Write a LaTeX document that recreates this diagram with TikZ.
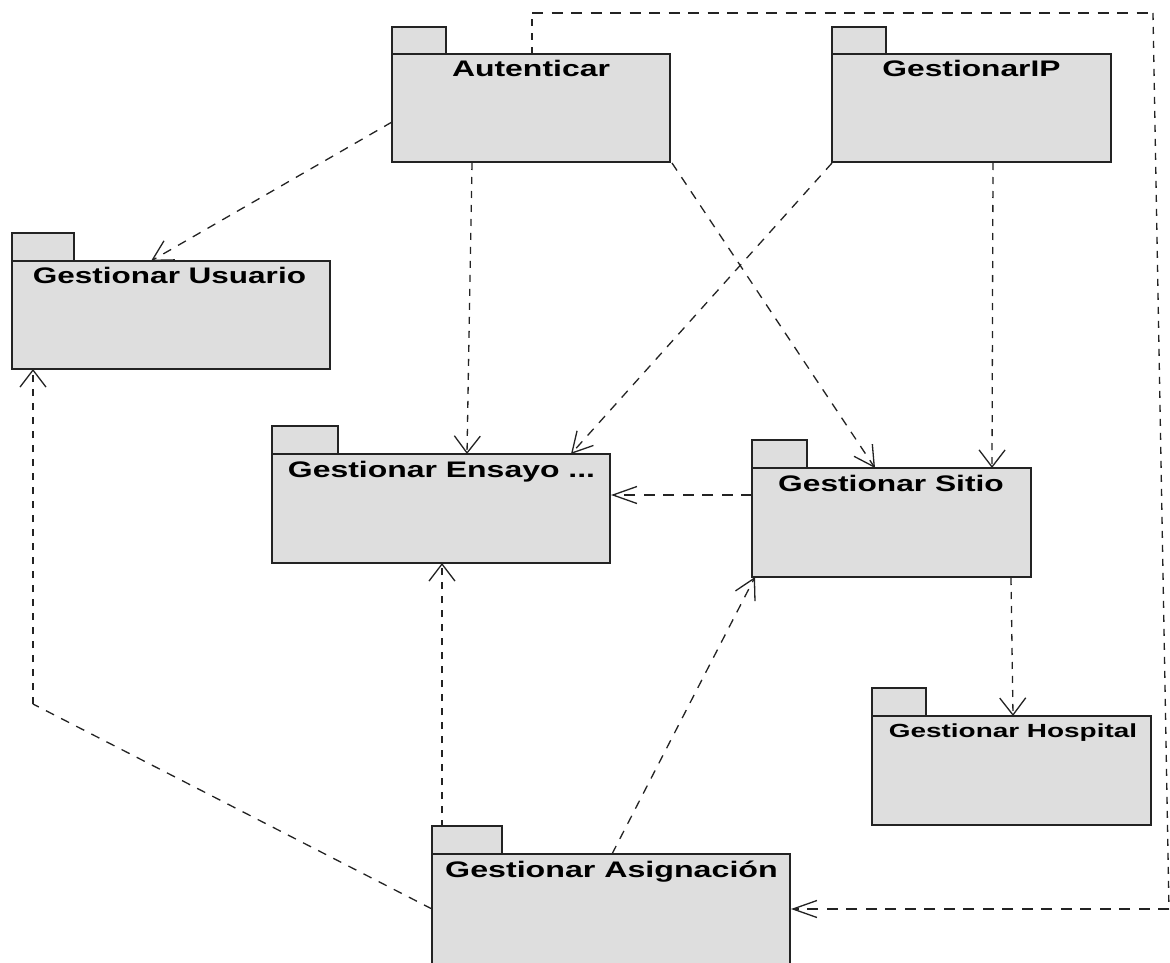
\documentclass[tikz,border=0pt]{standalone}
\usepackage{fontspec}
\usepackage{graphicx}
\setmainfont{Liberation Sans}
\usetikzlibrary{arrows.meta}
\definecolor{pk}{RGB}{222,222,222}
\definecolor{ln}{RGB}{35,35,35}
\tikzset{
 pkbody/.style={draw=ln,fill=pk,line width=1.5pt,inner sep=0pt,outer sep=0pt,anchor=north west},
 pktab/.style={draw=ln,fill=pk,line width=1.5pt,inner sep=0pt,outer sep=0pt,anchor=south west},
 pklabel/.style={font=\bfseries\fontsize{22.5}{26}\selectfont,anchor=base,inner sep=0pt},
 smalllabel/.style={font=\bfseries\fontsize{19}{22}\selectfont,anchor=base,inner sep=0pt},
 vdash/.style={draw=ln,line width=1.3pt,dash pattern=on 7pt off 7pt},
 hdash/.style={draw=ln,line width=1.3pt,dash pattern=on 11pt off 8.5pt},
 ddash/.style={draw=ln,line width=1.3pt,dash pattern=on 9pt off 8pt},
 depv/.style={vdash,-{Straight Barb[length=17pt,width=26pt,line width=1.3pt]}},
 deph/.style={hdash,-{Straight Barb[length=24pt,width=17pt,line width=1.3pt]}},
 depd/.style={ddash,-{Straight Barb[length=20pt,width=22pt,line width=1.3pt]}},
}
\newcommand{\pkg}[7]{%
 \node[pkbody,minimum width=#4 pt,minimum height=#5 pt] (#1) at (#2pt,-#3pt) {};
 \node[pktab,minimum width=#6 pt,minimum height=#7 pt] (#1tab) at (#2pt,-#3pt) {};
}
\newcommand{\lbl}[2]{\scalebox{#1}[1]{#2}}
\begin{document}
\begin{tikzpicture}[x=1pt,y=1pt]
\useasboundingbox (0,0) rectangle (1170pt,-963pt);
\fill[white] (0,0) rectangle (1170pt,-963pt);
\pkg{aut}{392}{54}{278}{108}{54}{27}
\pkg{gip}{832}{54}{279}{108}{54}{27}
\pkg{usu}{12}{261}{318}{108}{62}{28}
\pkg{ens}{272}{454}{338}{109}{66}{28}
\pkg{sit}{752}{468}{279}{109}{55}{28}
\pkg{hos}{872}{716}{279}{109}{54}{28}
\begin{scope}
\clip (0,0) rectangle (1170pt,-963pt);
\pkg{asi}{432}{854}{358}{130}{70}{28}
\end{scope}
\node[pklabel] (autl) at (531pt,-77pt) {\lbl{1.42}{Autenticar}};
\node[pklabel] (gipl) at (971.5pt,-77pt) {\lbl{1.41}{GestionarIP}};
\node[pklabel] (usul) at (169.5pt,-283.5pt) {\lbl{1.40}{Gestionar Usuario}};
\node[pklabel] (ensl) at (441.5pt,-477pt) {\lbl{1.42}{Gestionar Ensayo ...}};
\node[pklabel] (sitl) at (891pt,-491pt) {\lbl{1.41}{Gestionar Sitio}};
\node[smalllabel] (hosl) at (1013pt,-737pt) {\lbl{1.47}{Gestionar Hospital}};
\node[pklabel] (asil) at (611.5pt,-877pt) {\lbl{1.43}{Gestionar Asignación}};
\coordinate (a1) at (392pt,-122pt); \coordinate (a2) at (151pt,-261pt);
\draw[depd] (a1) -- (a2);
\coordinate (b1) at (472pt,-163pt); \coordinate (b2) at (467pt,-454pt);
\draw[depv] (b1) -- (b2);
\coordinate (c1) at (672pt,-163pt); \coordinate (c2) at (875pt,-468pt);
\draw[depd] (c1) -- (c2);
\coordinate (d1) at (832pt,-163pt); \coordinate (d2) at (571pt,-454pt);
\draw[depd] (d1) -- (d2);
\coordinate (e1) at (993pt,-163pt); \coordinate (e2) at (992pt,-468pt);
\draw[depv] (e1) -- (e2);
\coordinate (f1) at (752pt,-495pt); \coordinate (f2) at (611pt,-495pt);
\draw[deph] (f1) -- (f2);
\coordinate (g1) at (1011pt,-578pt); \coordinate (g2) at (1013pt,-716pt);
\draw[depv] (g1) -- (g2);
\coordinate (h1) at (442pt,-827pt); \coordinate (h2) at (442pt,-563pt);
\draw[depv] (h1) -- (h2);
\coordinate (i1) at (612pt,-854pt); \coordinate (i2) at (755pt,-577pt);
\draw[depd] (i1) -- (i2);
\coordinate (j1) at (432pt,-909pt); \coordinate (j2) at (33pt,-704pt); \coordinate (j3) at (33pt,-369pt);
\draw[ddash] (j1) -- (j2);
\draw[depv] (j2) -- (j3);
\coordinate (k1) at (532pt,-54pt); \coordinate (k2) at (532pt,-13pt); \coordinate (k3) at (1153pt,-13pt); \coordinate (k4) at (1169pt,-909pt); \coordinate (k5) at (791pt,-909pt);
\draw[vdash] (k1) -- (k2);
\draw[hdash] (k2) -- (k3);
\draw[vdash] (k3) -- (k4);
\draw[deph] (k4) -- (k5);
\end{tikzpicture}
\end{document}
